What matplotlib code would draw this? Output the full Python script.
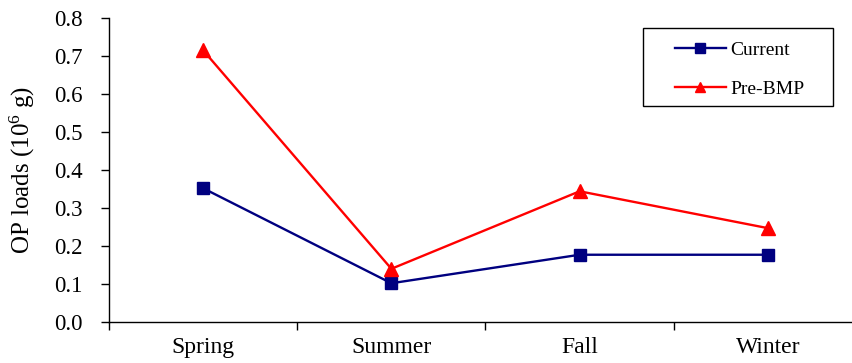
import matplotlib
matplotlib.use("Agg")
import matplotlib.pyplot as plt
from matplotlib.patches import Rectangle

seasons = ["Spring", "Summer", "Fall", "Winter"]
current = [0.352, 0.102, 0.177, 0.177]
pre_bmp = [0.715, 0.140, 0.344, 0.247]
y_ticks = [0.0, 0.1, 0.2, 0.3, 0.4, 0.5, 0.6, 0.7, 0.8]

plt.rcParams["font.family"] = ["Liberation Serif", "DejaVu Serif"]
plt.rcParams["mathtext.fontset"] = "custom"
plt.rcParams["mathtext.rm"] = "Liberation Serif"
plt.rcParams["mathtext.it"] = "Liberation Serif:italic"
plt.rcParams["mathtext.bf"] = "Liberation Serif:bold"

fig = plt.figure(figsize=(8.53, 3.63), dpi=100)
ax = fig.add_axes([109 / 853, 1 - 322 / 363, (862 - 109) / 853, (322 - 18) / 363])

x = list(range(len(seasons)))
ax.plot(x, current, color="#000080", lw=1.7, marker="s", markersize=9,
        label="Current", clip_on=False)
ax.plot(x, pre_bmp, color="#FF0000", lw=1.7, marker="^", markersize=9.5,
        label="Pre-BMP", clip_on=False)

ax.set_xlim(-0.5, len(seasons) - 0.5)
ax.set_ylim(0, 0.8)
ax.set_yticks(y_ticks)
ax.set_yticklabels([f"{v:.1f}" for v in y_ticks], fontsize=16.5)
ax.set_xticks([i - 0.5 for i in range(len(seasons) + 1)])
ax.set_xticklabels([])
ax.set_xticks(x, minor=True)
ax.set_xticklabels(seasons, minor=True, fontsize=17)
ax.tick_params(axis="x", which="minor", length=0, pad=11)
ax.tick_params(axis="x", which="major", length=6, width=1, direction="out")
ax.tick_params(axis="y", length=6, width=1, direction="out", pad=13)

for side in ("top", "right"):
    ax.spines[side].set_visible(False)
for side in ("left", "bottom"):
    ax.spines[side].set_linewidth(1)

ax.set_ylabel("OP loads (10$^{6}$ g)", fontsize=18, labelpad=12)

# legend entries without frame, boxed by a separate rectangle
leg = ax.legend(loc="center left", bbox_to_anchor=(675 / 853, 1 - 70 / 363),
                bbox_transform=fig.transFigure, fontsize=14, frameon=False,
                handlelength=2.6, labelspacing=1.1, handletextpad=0.25,
                borderpad=0, borderaxespad=0, markerscale=0.8)
fig.patches.append(Rectangle((643 / 853, 1 - 106 / 363), 190 / 853, 78 / 363,
                             transform=fig.transFigure, fill=False,
                             edgecolor="black", linewidth=1))

fig.savefig("out.png", dpi=100)
